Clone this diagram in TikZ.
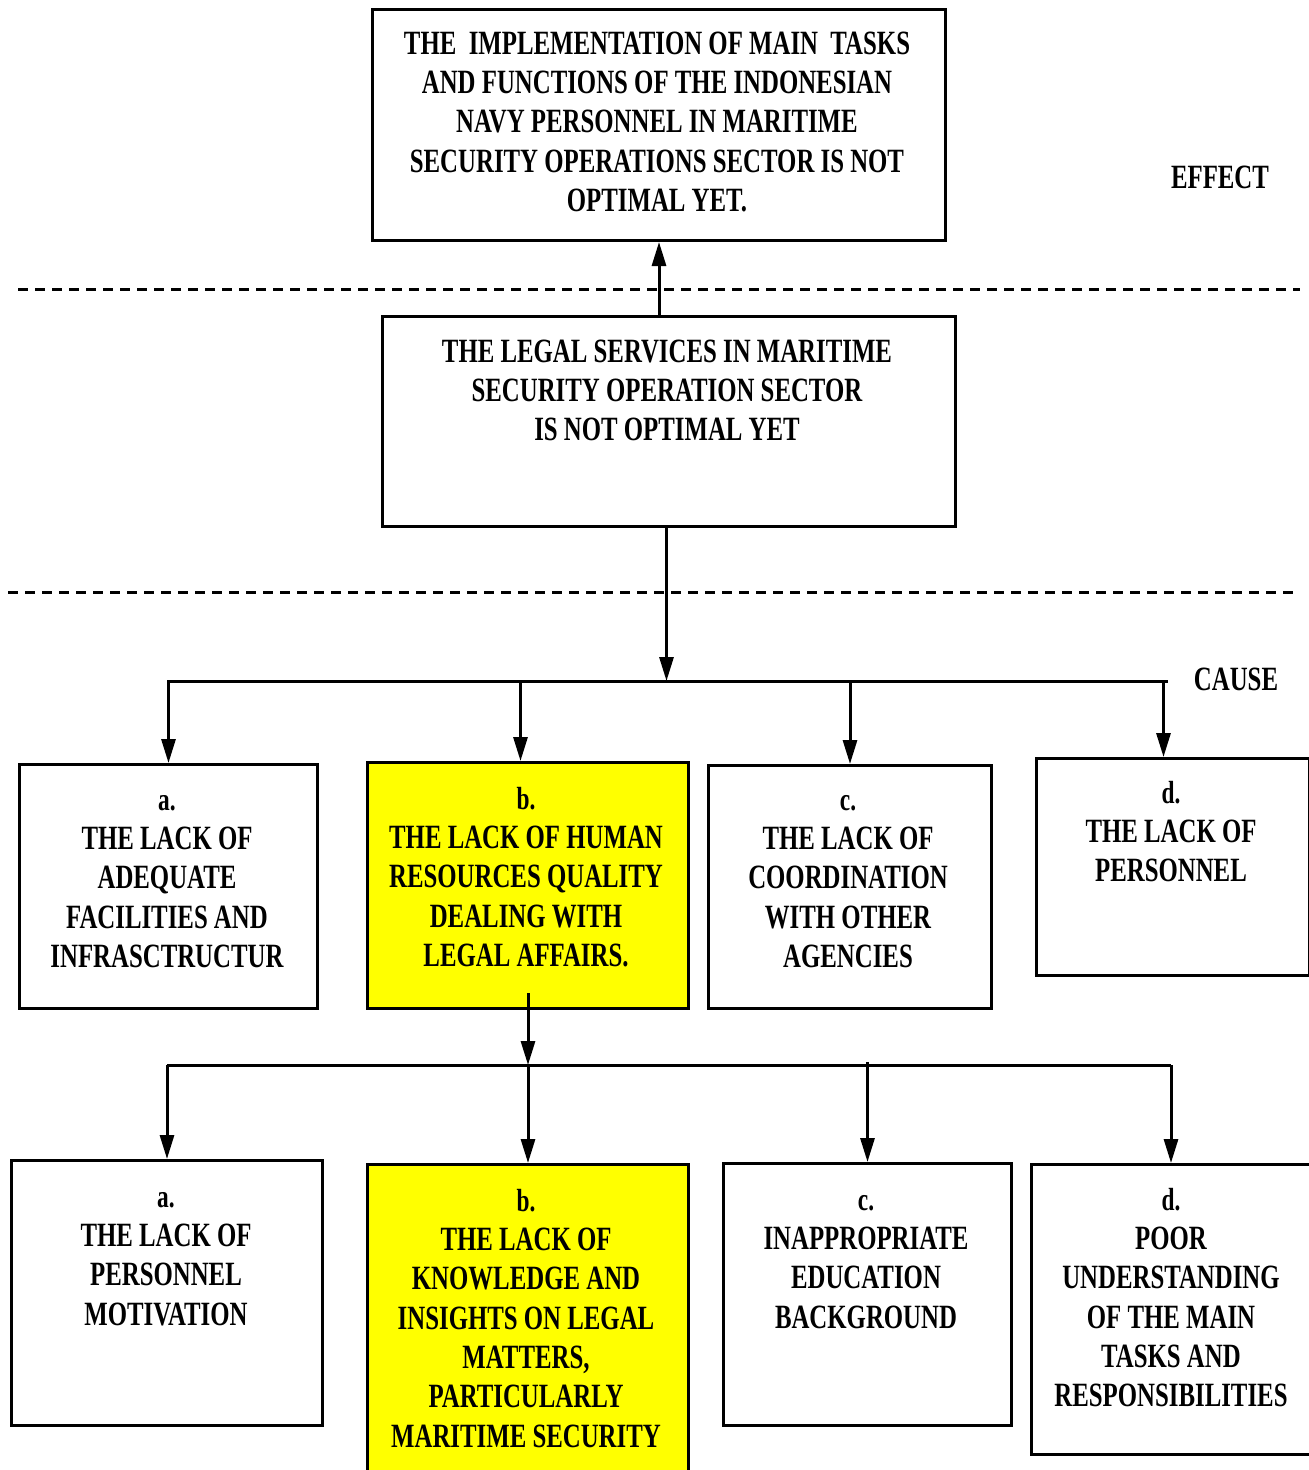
\documentclass[tikz,border=0pt]{standalone}
\usepackage{fontspec}
\setmainfont{Liberation Serif}[FakeStretch=0.73]
\usetikzlibrary{arrows.meta}
\definecolor{ylw}{RGB}{255,255,0}
\tikzset{
  box/.style={draw, line width=3pt, rectangle, inner sep=0pt, anchor=north west},
  yel/.style={box, fill=ylw},
  txt/.style={inner sep=0pt, align=center, anchor=north, font=\bfseries\fontsize{34}{39.3}\selectfont},
  con/.style={line width=3pt},
  arr/.style={line width=3pt, -{Triangle[length=24pt,width=14pt]}},
  sep/.style={line width=3pt, dash pattern=on 10pt off 7pt}
}
\newcommand{\fl}{\rule{0pt}{30pt}}
\newcommand{\lab}[1]{{\fontsize{32}{39}\selectfont #1}}
\begin{document}
\begin{tikzpicture}[x=1pt,y=-1pt]
\useasboundingbox (0,0) rectangle (1309,1470);
% boxes
\node[box, minimum width=573pt, minimum height=231pt] (top) at (371,8) {};
\node[box, minimum width=573pt, minimum height=210pt] (mid) at (381,315) {};
\node[box, minimum width=298pt, minimum height=244pt] (a1) at (18,763) {};
\node[yel, minimum width=321pt, minimum height=246pt] (b1) at (366,761) {};
\node[box, minimum width=283pt, minimum height=243pt] (c1) at (707,764) {};
\node[box, minimum width=273pt, minimum height=217pt] (d1) at (1035,757) {};
\node[box, minimum width=311pt, minimum height=265pt] (a2) at (10,1159) {};
\node[yel, minimum width=321pt, minimum height=330pt] (b2) at (366,1163) {};
\node[box, minimum width=288pt, minimum height=262pt] (c2) at (722,1162) {};
\node[box, minimum width=279pt, minimum height=290pt] (d2) at (1030,1163) {};
% texts
\node[txt] (ttop) at (657,24) {\fl THE\ \ IMPLEMENTATION OF MAIN\ \ TASKS\\AND FUNCTIONS OF THE INDONESIAN\\NAVY PERSONNEL IN MARITIME\\SECURITY OPERATIONS SECTOR IS NOT\\OPTIMAL YET.};
\node[txt] (tmid) at (667,332) {\fl THE LEGAL SERVICES IN MARITIME\\SECURITY OPERATION SECTOR\\IS NOT OPTIMAL YET};
\node[txt] (effect) at (1220,158) {\fl EFFECT};
\node[txt] (cause) at (1236,660) {\fl CAUSE};
\node[txt] (ta1) at (167,780) {\fl\lab{a.}\\THE LACK OF\\ADEQUATE\\FACILITIES AND\\INFRASCTRUCTUR};
\node[txt] (tb1) at (526,779) {\fl\lab{b.}\\THE LACK OF HUMAN\\RESOURCES QUALITY\\DEALING WITH\\LEGAL AFFAIRS.};
\node[txt] (tc1) at (848,780) {\fl\lab{c.}\\THE LACK OF\\COORDINATION\\WITH OTHER\\AGENCIES};
\node[txt] (td1) at (1171,773) {\fl\lab{d.}\\THE LACK OF\\PERSONNEL};
\node[txt] (ta2) at (166,1177) {\fl\lab{a.}\\THE LACK OF\\PERSONNEL\\MOTIVATION};
\node[txt] (tb2) at (526,1181) {\fl\lab{b.}\\THE LACK OF\\KNOWLEDGE AND\\INSIGHTS ON LEGAL\\MATTERS,\\PARTICULARLY\\MARITIME SECURITY};
\node[txt] (tc2) at (866,1180) {\fl\lab{c.}\\INAPPROPRIATE\\EDUCATION\\BACKGROUND};
\node[txt] (td2) at (1171,1180) {\fl\lab{d.}\\POOR\\UNDERSTANDING\\OF THE MAIN\\TASKS AND\\RESPONSIBILITIES};
% dashed separators
\coordinate (s1l) at (18,289); \coordinate (s1r) at (1300,289);
\coordinate (s2l) at (8,592); \coordinate (s2r) at (1300,592);
\draw[sep] (s1l) -- (s1r);
\draw[sep] (s2l) -- (s2r);
% connectors
\draw[arr] (mid.north -| top.south) -- (top.south);
\coordinate (bus1L) at (167,681); \coordinate (bus1R) at (1168,681);
\draw[arr] ([xshift=-2.5pt]mid.south) -- ([xshift=-2.5pt]mid.south |- bus1L);
\draw[con] (bus1L) -- (bus1R);
\draw[arr] (a1.north |- bus1L) -- (a1.north);
\draw[arr] ([xshift=-7.5pt]b1.north |- bus1L) -- ([xshift=-7.5pt]b1.north);
\draw[arr] (c1.north |- bus1L) -- (c1.north);
\draw[arr] ([xshift=-9.5pt]d1.north |- bus1L) -- ([xshift=-9.5pt]d1.north);
\coordinate (bus2L) at (167,1065); \coordinate (bus2R) at (1171,1065);
\draw[arr] ([yshift=17pt]b1.south) -- (b1.south |- bus2L);
\draw[con] (bus2L) -- (bus2R);
\draw[arr] (bus2L) -- (bus2L |- a2.north);
\draw[arr] (b2.north |- bus2L) -- (b2.north);
\draw[arr] ([yshift=3pt]c2.north |- bus2L) -- (c2.north);
\draw[arr] (bus2R) -- (bus2R |- d2.north);
\end{tikzpicture}
\end{document}
